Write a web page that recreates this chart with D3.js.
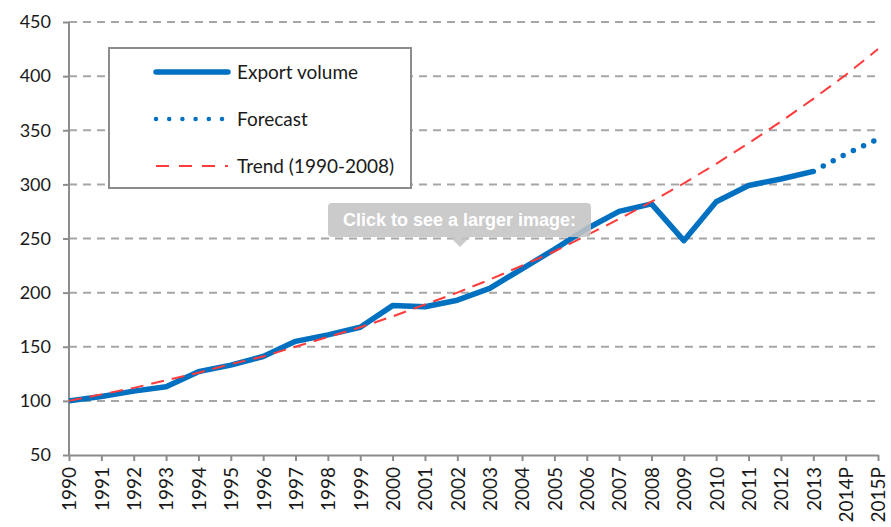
<!DOCTYPE html>
<html>
<head>
<meta charset="utf-8">
<script src="https://cdn.jsdelivr.net/npm/d3@7"></script>
<style>
  body { margin: 0; background: #fff; }
  svg { display: block; }
  .tick text { font-family: Lato, "Open Sans", sans-serif; fill: #1a1a1a; }
</style>
</head>
<body>
<div id="chart"></div>
<script>
// years on the category axis
var years = ["1990","1991","1992","1993","1994","1995","1996","1997","1998","1999",
             "2000","2001","2002","2003","2004","2005","2006","2007","2008","2009",
             "2010","2011","2012","2013","2014P","2015P"];

// export volume index (1990 = 100)
var exportVolume = [100,104,109,113,127,133,141,155,161,168,
                    188,187,193,204,222,240,259,275,282,248,
                    284,299,305,312];

// forecast continues from 2013
var forecastYears = ["2013","2014P","2015P"];
var forecast = [312,328,342];

// trend (1990-2008)
var trend = [100,106,112,119,126,134,141,150,159,168,
             178,189,200,212,225,238,253,268,284,301,
             319,338,358,379,401,425];

var yTicks = [50,100,150,200,250,300,350,400,450];

var legendItems = [
    {label: "Export volume", kind: "solid"},
    {label: "Forecast", kind: "dots"},
    {label: "Trend (1990-2008)", kind: "dash"}
];

var width = 891, height = 527;
var margin = {top: 22, right: 13, bottom: 72, left: 69};
var blue = "#0070c0", red = "#ff3b3b", grey = "#8c8c8c";

var svg = d3.select("#chart").append("svg")
    .attr("width", width)
    .attr("height", height);

var x = d3.scalePoint()
    .domain(years)
    .range([margin.left, width - margin.right]);

var y = d3.scaleLinear()
    .domain([50, 450])
    .range([height - margin.bottom, margin.top]);

//dashed horizontal gridlines
svg.append("g").selectAll("line")
    .data(yTicks.slice(1))
    .enter().append("line")
    .attr("x1", margin.left)
    .attr("x2", width - margin.right)
    .attr("y1", function(d){ return y(d); })
    .attr("y2", function(d){ return y(d); })
    .attr("stroke", "#a6a6a6")
    .attr("stroke-width", 2)
    .attr("stroke-dasharray", "8,6");

//y axis
var yAxis = svg.append("g")
    .attr("transform", "translate(" + margin.left + ",0)")
    .call(d3.axisLeft(y).tickValues(yTicks).tickSize(6).tickPadding(12));
yAxis.selectAll("text").style("font-size", "18px");

//x axis with rotated labels
var xAxis = svg.append("g")
    .attr("transform", "translate(0," + (height - margin.bottom) + ")")
    .call(d3.axisBottom(x).tickSize(6).tickSizeOuter(0));
xAxis.selectAll("text")
    .style("font-size", "19px")
    .style("text-anchor", "end")
    .attr("transform", "rotate(-90)")
    .attr("x", -12)
    .attr("y", 0)
    .attr("dy", "0.36em");

svg.selectAll(".domain, .tick line")
    .attr("stroke", grey)
    .attr("stroke-width", 2);
yAxis.select(".domain").attr("d", "M0," + y(50) + "V" + y(450));

var line = d3.line()
    .x(function(d){ return x(d[0]); })
    .y(function(d){ return y(d[1]); });

//export volume
svg.append("path")
    .datum(d3.zip(years.slice(0, exportVolume.length), exportVolume))
    .attr("d", line)
    .attr("fill", "none")
    .attr("stroke", blue)
    .attr("stroke-width", 5.5)
    .attr("stroke-linejoin", "round");

//forecast dots
svg.append("path")
    .datum(d3.zip(forecastYears, forecast))
    .attr("d", line)
    .attr("fill", "none")
    .attr("stroke", blue)
    .attr("stroke-width", 5.5)
    .attr("stroke-linecap", "round")
    .attr("stroke-dasharray", "0,11.3")
    .attr("stroke-dashoffset", -11.3);

//trend
svg.append("path")
    .datum(d3.zip(years, trend))
    .attr("d", line)
    .attr("fill", "none")
    .attr("stroke", red)
    .attr("stroke-width", 2)
    .attr("stroke-dasharray", "13,8");

//legend
var legend = svg.append("g");
legend.append("rect")
    .attr("x", 109).attr("y", 48)
    .attr("width", 302).attr("height", 140)
    .attr("fill", "#fff")
    .attr("stroke", grey)
    .attr("stroke-width", 2);

var rows = legend.selectAll("g.item")
    .data(legendItems)
    .enter().append("g")
    .attr("class", "item")
    .attr("transform", function(d, i){ return "translate(0," + (72 + i * 47) + ")"; });

rows.append("line")
    .attr("x1", 156)
    .attr("x2", function(d){ return d.kind == "dots" ? 222 : 228; })
    .attr("stroke", function(d){ return d.kind == "dash" ? red : blue; })
    .attr("stroke-width", function(d){
        if (d.kind == "solid") return 5.5;
        if (d.kind == "dots") return 4.5;
        return 2;
    })
    .attr("stroke-linecap", function(d){ return d.kind == "dash" ? "butt" : "round"; })
    .attr("stroke-dasharray", function(d){
        if (d.kind == "dots") return "0,13.2";
        if (d.kind == "dash") return "13,10";
        return null;
    });

rows.append("text")
    .attr("x", 237)
    .attr("dy", "0.35em")
    .style("font-family", "Lato, 'Open Sans', sans-serif")
    .style("font-size", "19px")
    .attr("fill", "#1a1a1a")
    .text(function(d){ return d.label; });

//"click to see a larger image" overlay
var tip = svg.append("g").attr("opacity", 0.88);
tip.append("rect")
    .attr("x", 328).attr("y", 203)
    .attr("width", 263).attr("height", 34)
    .attr("rx", 4)
    .attr("fill", "#c4c4c4");
tip.append("path")
    .attr("d", "M450,237L460,247L470,237Z")
    .attr("fill", "#c4c4c4");
tip.append("text")
    .attr("x", 459.5).attr("y", 220)
    .attr("dy", "0.36em")
    .attr("text-anchor", "middle")
    .style("font-family", "'Liberation Sans', Arial, sans-serif")
    .style("font-size", "18px")
    .style("font-weight", "bold")
    .attr("fill", "#fff")
    .text("Click to see a larger image:");
</script>
</body>
</html>
